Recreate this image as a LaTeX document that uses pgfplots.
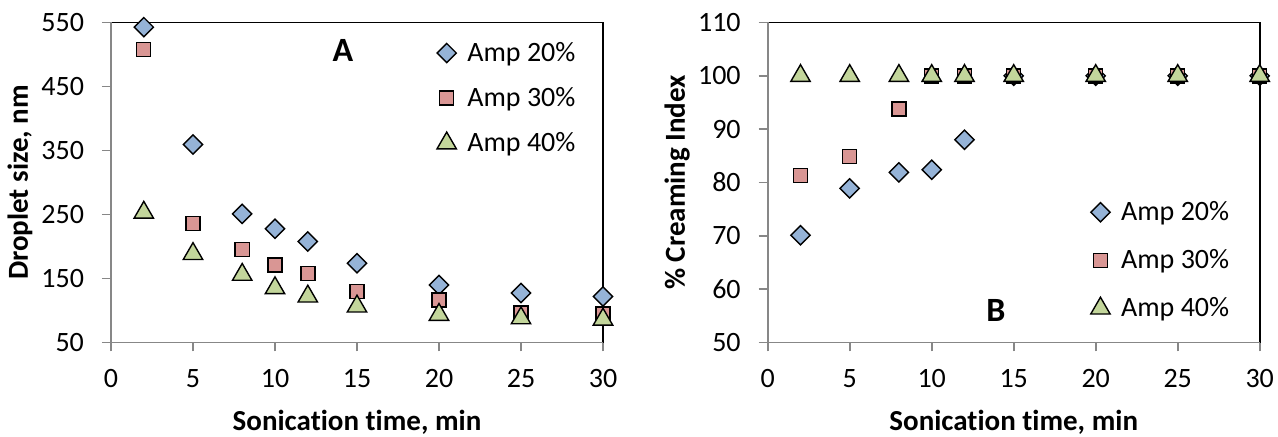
\documentclass[border=0pt]{standalone}
\usepackage{fontspec}
\setmainfont{Carlito}[Ligatures=NoCommon]
\usepackage{pgfplots}
\pgfplotsset{compat=1.18}
\definecolor{cA}{HTML}{95B3D7}
\definecolor{cB}{HTML}{D99694}
\definecolor{cC}{HTML}{C3D69B}
\definecolor{axgray}{HTML}{878787}
\pgfplotsset{
 mystyle/.style={
  scale only axis, width=246pt, height=160pt,
  xmin=0, xmax=30, xtick={0,5,...,30},
  tick align=outside, tick pos=left,
  major tick length=4.5pt,
  tick style={axgray, line width=0.8pt},
  axis line style={black, line width=0.8pt},
  /pgf/number format/assume math mode=true,
  ticklabel style={font=\fontsize{14}{16}\selectfont},
  yticklabel style={xshift=-5.5pt},
  xticklabel style={yshift=-5.5pt},
  label style={font=\bfseries\fontsize{14.5}{16}\selectfont},
  xlabel={Sonicat\kern0pt ion t\kern0pt ime, min},
  xlabel style={at={(axis description cs:0.5,-0.25)}, anchor=center},
  clip=false,
  legend cell align=left,
  legend style={draw=none, fill=none, font=\fontsize{14}{16}\selectfont, row sep=9.5pt, nodes={inner sep=1pt}},
 },
 sA/.style={only marks, mark=square*, mark size=3.4pt, mark options={rotate=45, fill=cA, draw=black, line width=0.7pt}},
 sB/.style={only marks, mark=square*, mark size=3.5pt, mark options={fill=cB, draw=black, line width=0.7pt}},
 sC/.style={only marks, mark=triangle*, mark size=5.6pt, mark options={fill=cC, draw=black, line width=0.7pt}},
}
\begin{document}
\begin{tikzpicture}
\useasboundingbox (-55.5pt,-47.25pt) rectangle (583.5pt,171.25pt);
\begin{axis}[mystyle, at={(0pt,0pt)}, anchor=south west,
  ymin=50, ymax=550, ytick={50,150,...,550},
  ylabel={Droplet size, nm},
  ylabel style={at={(axis description cs:-0.185,0.5)}, anchor=center},
  legend style={at={(axis description cs:0.961,0.959)}, anchor=north east}]
\addplot[sA] coordinates {(2,542.7) (5,359.3) (8,251) (10,227.6) (12,207.8) (15,173.8) (20,140) (25,127.3) (30,122)};
\addplot[sB] coordinates {(2,508) (5,235.5) (8,195) (10,171) (12,158) (15,129.4) (20,116.4) (25,96) (30,94.5)};
\addplot[sC] coordinates {(2,253) (5,188.5) (8,156) (10,135) (12,122) (15,106.4) (20,93.4) (25,88) (30,86)};
\legend{\hspace{4.5pt}Amp 20\%, \hspace{4.5pt}Amp 30\%, \hspace{4.5pt}Amp 40\%}
\draw[axgray, line width=0.8pt] (rel axis cs:0,1) -- (rel axis cs:0,0) -- (rel axis cs:1,0);
\node at (axis description cs:0.4715,0.914) {\bfseries\fontsize{17}{20}\selectfont A};
\end{axis}
\begin{axis}[mystyle, at={(328.35pt,0pt)}, anchor=south west,
  ymin=50, ymax=110, ytick={50,60,...,110},
  ylabel={\% Creaming Index},
  ylabel style={at={(axis description cs:-0.184,0.5)}, anchor=center},
  legend style={at={(axis description cs:0.955,0.052)}, anchor=south east, row sep=11pt}]
\addplot[sA] coordinates {(2,70.1) (5,78.9) (8,81.9) (10,82.4) (12,88) (15,100) (20,100) (25,100) (30,100)};
\addplot[sB] coordinates {(2,81.3) (5,84.9) (8,93.8) (10,100) (12,100) (15,100) (20,100) (25,100) (30,100)};
\addplot[sC] coordinates {(2,100) (5,100) (8,100) (10,100) (12,100) (15,100) (20,100) (25,100) (30,100)};
\legend{\hspace{4.5pt}Amp 20\%, \hspace{4.5pt}Amp 30\%, \hspace{4.5pt}Amp 40\%}
\draw[axgray, line width=0.8pt] (rel axis cs:0,1) -- (rel axis cs:0,0) -- (rel axis cs:1,0);
\node at (axis description cs:0.464,0.099) {\bfseries\fontsize{17}{20}\selectfont B};
\end{axis}
\end{tikzpicture}
\end{document}
